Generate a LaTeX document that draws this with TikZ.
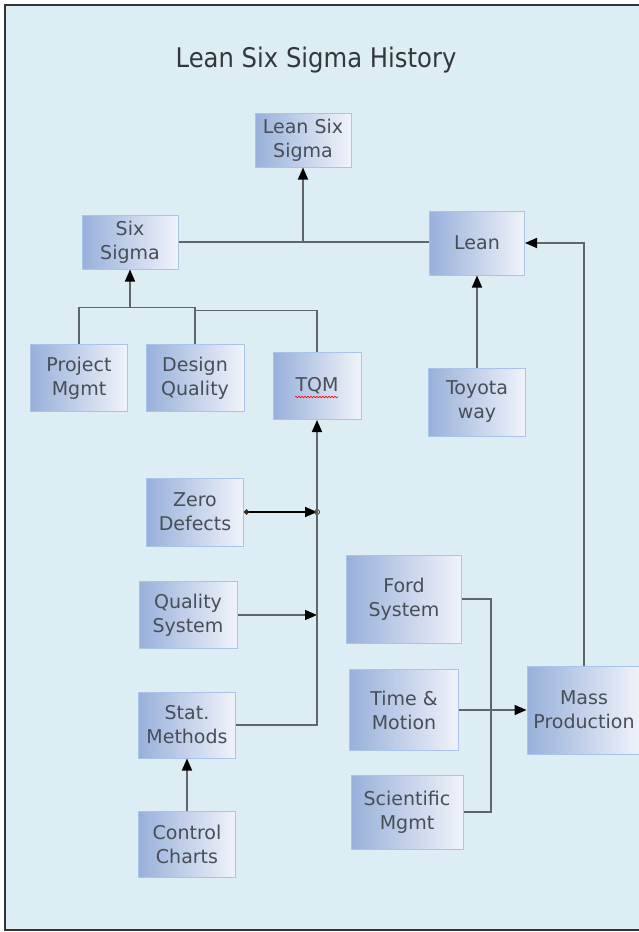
\documentclass[tikz,border=0pt]{standalone}
\usepackage{fontspec}
\newfontfamily\boxfont{DejaVu Sans}
\newfontfamily\titlefont[FakeStretch=0.9]{DejaVu Sans}
\usetikzlibrary{arrows.meta,calc,decorations.pathmorphing}
\definecolor{bg}{HTML}{DCEEF3}
\definecolor{boxdark}{HTML}{98B0DA}
\definecolor{boxlight}{HTML}{F0F3FA}
\definecolor{boxedge}{HTML}{A8C4E8}
\definecolor{boxtext}{HTML}{484E56}
\definecolor{linkgray}{HTML}{5E666B}
\definecolor{titlegray}{HTML}{35383B}
\tikzset{
  box/.style={draw=boxedge, line width=1pt, left color=boxdark, right color=boxlight,
    text=boxtext, align=center, inner sep=0pt, font=\boxfont\fontsize{19}{24}\selectfont},
  link/.style={draw=linkgray, line width=1.6pt},
  arr/.style={link, arrows={-Triangle[length=12pt,width=10pt,color=black]}},
  zeroarr/.style={draw=black, line width=1.8pt,
    arrows={Circle[length=5pt,color=black!70!brown]-Triangle[length=12pt,width=10pt]}},
}
\begin{document}
\begin{tikzpicture}[x=1pt,y=-1pt]
      \useasboundingbox (0,0) rectangle (639,932);
      \fill[white] (0,0) rectangle (639,932);
      \draw[fill=bg, draw=black!80, line width=1.5pt] (5,5) rectangle (660,930);
      \node[font=\titlefont\fontsize{27}{32}\selectfont, text=titlegray, anchor=base]
        (title) at (316,67) {Lean Six Sigma History};
      \draw
        (303,140) node[box, minimum width=96, minimum height=54] (lss){Lean Six\\Sigma}
        (130,242) node[box, minimum width=96, minimum height=54] (sixsigma){Six\\Sigma}
        (477,243) node[box, minimum width=95, minimum height=64] (lean){Lean}
        (79,378) node[box, minimum width=97, minimum height=67] (projmgmt){Project\\Mgmt}
        (195,378) node[box, minimum width=98, minimum height=67] (designq){Design\\Quality}
        (317,386) node[box, minimum width=88, minimum height=67] (tqm){TQM}
        (477,402) node[box, minimum width=97, minimum height=68] (toyota){Toyota\\way}
        (195,512) node[box, minimum width=97, minimum height=68] (zero){Zero\\Defects}
        (188,615) node[box, minimum width=98, minimum height=67] (qsys){Quality\\System}
        (404,599) node[box, minimum width=115, minimum height=88] (ford){Ford\\System}
        (187,725) node[box, minimum width=97, minimum height=66] (stat){Stat.\\Methods}
        (187,844) node[box, minimum width=97, minimum height=66] (control){Control\\Charts}
        (404,710) node[box, minimum width=109, minimum height=81] (timem){Time \&\\Motion}
        (407,812) node[box, minimum width=112, minimum height=74] (sci){Scientific\\Mgmt}
        (584,710) node[box, minimum width=114, minimum height=88] (mass){Mass\\Production};
      \draw[red, line width=.6pt, decorate, decoration={snake, amplitude=.8pt, segment length=3pt}]
        ($(tqm)+(-22,11)$) -- ($(tqm)+(21,11)$);
      \coordinate (jsix) at ($(sixsigma.south)+(0,38)$);
      \coordinate (jmass) at ($(timem.east)!0.47!(mass.west)$);
      \begin{scope}[link]
        \draw (sixsigma.east) to (sixsigma.east -| lean.west);
        \draw[arr] (sixsigma.east -| lss.south) to (lss.south);
        \draw[arr] (toyota.north) to (lean.south);
        \draw[arr] (mass.north) |- (lean.east);
        \draw (projmgmt.north) |- (jsix) -| (designq.north);
        \draw ($(jsix -| designq.north)+(0,3)$) -| (tqm.north);
        \draw[arr] (jsix) to (sixsigma.south);
        \draw[zeroarr] (zero.east) to (zero.east -| tqm.south);
        \draw[draw=black!70!brown, line width=.8pt] (zero.east -| tqm.south) circle[radius=2.5pt];
        \draw[arr] (qsys.east) to (qsys.east -| tqm.south);
        \draw[arr] (stat.east) -| (tqm.south);
        \draw[arr] (control.north) to (stat.south);
        \draw (ford.east) -| (jmass) |- (sci.east);
        \draw[arr] (timem.east) to (mass.west);
      \end{scope}
    \end{tikzpicture}
\end{document}
